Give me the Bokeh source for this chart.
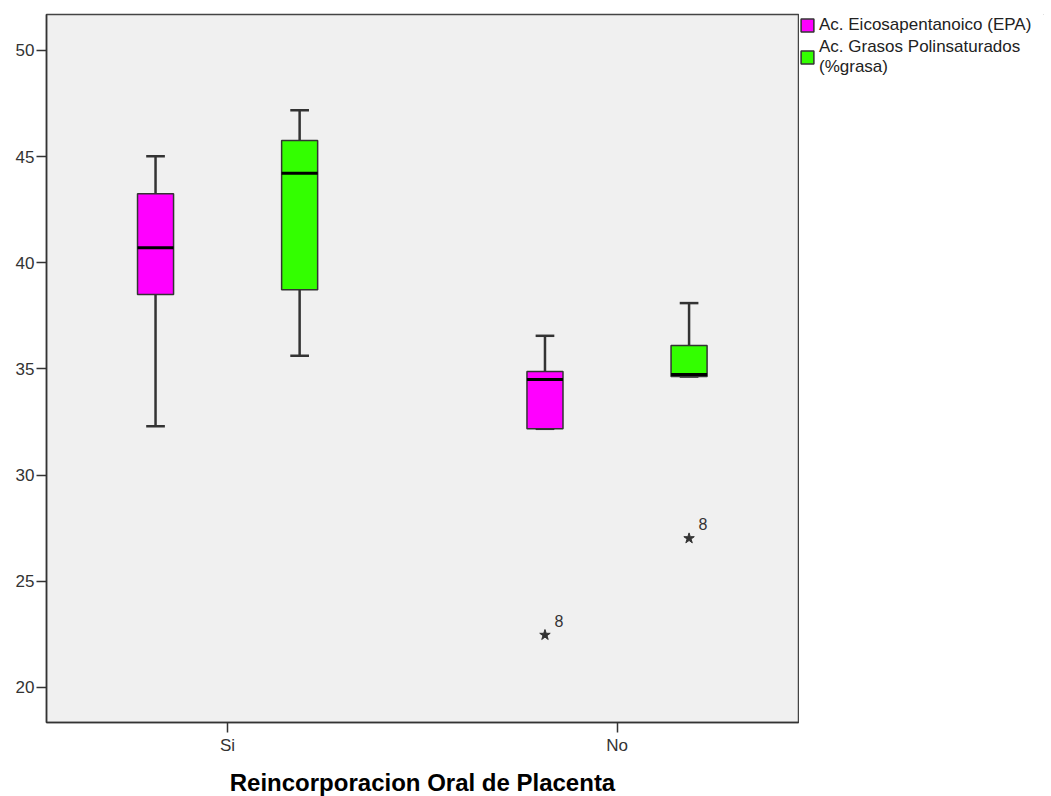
from bokeh.plotting import figure
from bokeh.layouts import row
from bokeh.models import Range1d, FixedTicker, Legend, LegendItem, ColumnDataSource
from bokeh.core.properties import value
from bokeh.embed import file_html
from bokeh.resources import INLINE

# ---- data ----
categories = ["Si", "No"]
series_names = ["Ac. Eicosapentanoico (EPA)", "Ac. Grasos Polinsaturados\n(%grasa)"]
series_colors = ["#ff00ff", "#33ff00"]

epa_low = [32.30, 32.18]
epa_q1 = [38.51, 32.18]
epa_med = [40.71, 34.50]
epa_q3 = [43.25, 34.88]
epa_high = [45.02, 36.56]

grasa_low = [35.62, 34.64]
grasa_q1 = [38.73, 34.64]
grasa_med = [44.21, 34.74]
grasa_q3 = [45.76, 36.10]
grasa_high = [47.18, 38.10]

epa_out_cat = ["No"]
epa_out_val = [22.47]
epa_out_id = ["8"]
grasa_out_cat = ["No"]
grasa_out_val = [27.02]
grasa_out_id = ["8"]

y_ticks = [20, 25, 30, 35, 40, 45, 50]

FONT = "Liberation Sans"
DARK = "#333333"
FW, FH = 752, 708
TOP, BOTTOM, LEFT = 14, 72, 46
TOTAL_H = TOP + FH + BOTTOM

p = figure(frame_width=FW, frame_height=FH, output_backend="svg", toolbar_location=None,
           x_range=Range1d(0.535, 2.466), y_range=Range1d(18.35, 51.69),
           min_border_left=LEFT, min_border_top=TOP, min_border_bottom=BOTTOM, min_border_right=1)
p.background_fill_color = "#f0f0f0"
p.border_fill_color = "white"
p.outline_line_color = "#444444"
p.outline_line_width = 1.5
p.xgrid.visible = False
p.ygrid.visible = False

pos = {c: i + 1 for i, c in enumerate(categories)}
offset = 0.185
box_w = 0.0925
cap_w = 0.048

def draw_series(low, q1, med, q3, high, out_cat, out_val, out_id, color, dx):
    xs = [pos[c] + dx for c in categories]
    src = ColumnDataSource(dict(x=xs, low=low, q1=q1, med=med, q3=q3, high=high,
                                cl=[x - cap_w / 2 for x in xs], cr=[x + cap_w / 2 for x in xs],
                                ml=[x - box_w / 2 for x in xs], mr=[x + box_w / 2 for x in xs]))
    p.segment(x0="x", y0="q3", x1="x", y1="high", source=src, line_color=DARK, line_width=2.5)
    p.segment(x0="x", y0="low", x1="x", y1="q1", source=src, line_color=DARK, line_width=2.5)
    p.segment(x0="cl", y0="high", x1="cr", y1="high", source=src, line_color=DARK, line_width=2.5)
    p.segment(x0="cl", y0="low", x1="cr", y1="low", source=src, line_color=DARK, line_width=2.5)
    p.vbar(x="x", width=box_w, top="q3", bottom="q1", source=src,
           fill_color=color, line_color=DARK, line_width=1.5)
    p.segment(x0="ml", y0="med", x1="mr", y1="med", source=src, line_color="black", line_width=3)
    osrc = ColumnDataSource(dict(x=[pos[c] + dx for c in out_cat], y=out_val, t=out_id))
    p.scatter(x="x", y="y", source=osrc, marker="star", size=11,
              fill_color=DARK, line_color=DARK)
    p.text(x="x", y="y", text="t", source=osrc, x_offset=14, y_offset=-14,
           text_align="center", text_baseline="middle", text_font=value(FONT),
           text_font_size="16px", text_color=DARK)

draw_series(epa_low, epa_q1, epa_med, epa_q3, epa_high,
            epa_out_cat, epa_out_val, epa_out_id, series_colors[0], -offset)
draw_series(grasa_low, grasa_q1, grasa_med, grasa_q3, grasa_high,
            grasa_out_cat, grasa_out_val, grasa_out_id, series_colors[1], offset)

# axes
p.xaxis.ticker = FixedTicker(ticks=[pos[c] for c in categories])
p.xaxis.major_label_overrides = {pos[c]: c for c in categories}
p.yaxis.ticker = FixedTicker(ticks=y_ticks)
for ax in (p.xaxis[0], p.yaxis[0]):
    ax.axis_line_color = DARK
    ax.axis_line_width = 1.5
    ax.major_tick_line_color = DARK
    ax.major_tick_line_width = 1.5
    ax.major_tick_out = 10
    ax.major_tick_in = 0
    ax.minor_tick_line_color = None
    ax.major_label_text_font = FONT
    ax.major_label_text_font_size = "17px"
    ax.major_label_text_color = DARK
p.yaxis.major_label_standoff = 2
p.xaxis.major_label_standoff = 3
p.xaxis.axis_label = "Reincorporacion Oral de Placenta"
p.xaxis.axis_label_text_font = FONT
p.xaxis.axis_label_text_font_size = "24px"
p.xaxis.axis_label_text_font_style = "bold"
p.xaxis.axis_label_text_color = "black"
p.xaxis.axis_label_standoff = 11

# ---- legend panel (separate figure beside the chart) ----
lf = figure(width=245, height=TOTAL_H, output_backend="svg", toolbar_location=None,
            x_range=Range1d(0, 1), y_range=Range1d(0, 1),
            min_border_left=0, min_border_right=0, min_border_top=TOP, min_border_bottom=BOTTOM)
lf.axis.visible = False
lf.grid.visible = False
lf.outline_line_color = None
lf.background_fill_color = "white"
lf.border_fill_color = "white"
items = []
for name, color in zip(series_names, series_colors):
    # off-range swatch renderers: only their legend glyphs are shown
    rr = lf.vbar(x=[5], width=0.1, top=[6], bottom=[5], fill_color=color,
                 line_color=DARK, line_width=1.5)
    items.append(LegendItem(label=name, renderers=[rr]))
legend = Legend(items=items, location=(0, FH - 6 - 61), margin=0, padding=0, spacing=2,
                glyph_width=16, glyph_height=16, label_standoff=4,
                label_text_font=FONT, label_text_font_size="17px",
                label_text_color="#222222", label_text_line_height=1.0,
                border_line_color=None, background_fill_alpha=0)
lf.add_layout(legend)

layout = row(p, lf, spacing=0)
open("out.html", "w").write(file_html(layout, INLINE))
